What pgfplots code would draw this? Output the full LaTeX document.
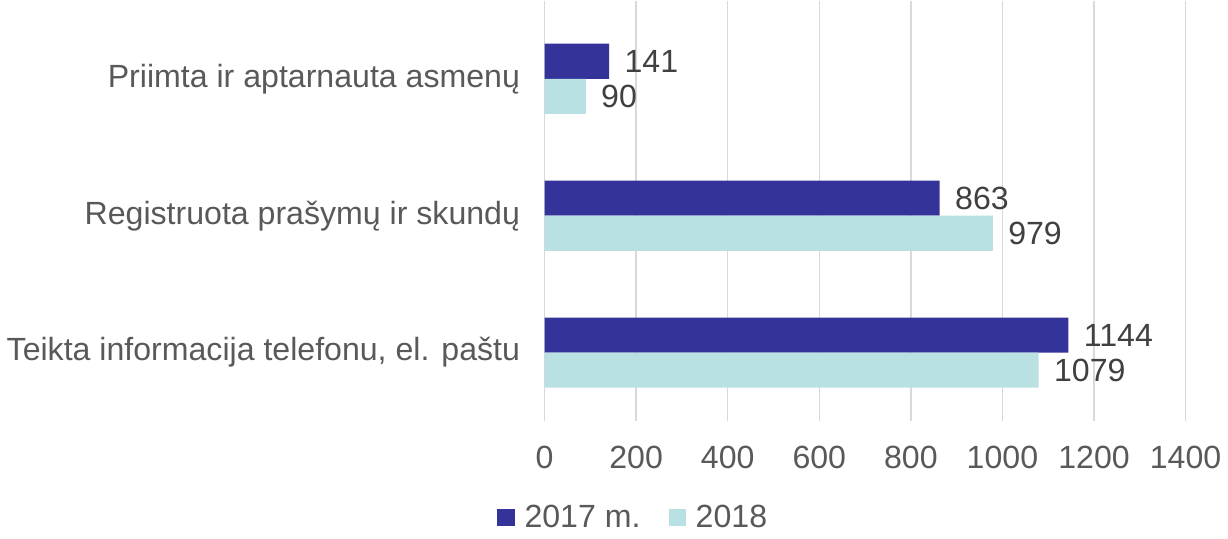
\documentclass[border=0pt]{standalone}
\usepackage{fontspec}
\setmainfont{Liberation Sans}
\usepackage{pgfplots}
\pgfplotsset{compat=1.18}
\definecolor{c17}{HTML}{333399}
\definecolor{c18}{HTML}{B9E0E3}
\definecolor{txt}{HTML}{595959}
\definecolor{lbl}{HTML}{404040}
\definecolor{gridc}{HTML}{D9D9D9}
\begin{document}
\begin{tikzpicture}
\begin{axis}[
  scale only axis, width=319.5pt, height=209.5pt,
  xbar, bar width=17.5pt,
  xmin=0, xmax=1400, ymin=-0.57, ymax=2.5, y dir=reverse,
  axis line style={draw=none},
  xtick={0,200,...,1400}, ytick={0,1,2},
  yticklabels={Priimta ir aptarnauta asmenų, Registruota prašymų ir skundų, {Teikta informacija telefonu, el. paštu}},
  xmajorgrids, major grid style={gridc, line width=0.75pt},
  major tick length=0pt,
  tick label style={font=\fontsize{16}{19}\selectfont, text=txt},
  xticklabel style={yshift=-9pt},
  yticklabel style={xshift=-8.7pt},
  /pgf/number format/assume math mode=true,
  /pgf/number format/1000 sep={},
  scaled x ticks=false,
  nodes near coords,
  nodes near coords style={anchor=west, font=\fontsize{16}{19}\selectfont, text=lbl, inner sep=0pt, xshift=7.5pt, /pgf/number format/1000 sep={}},
  legend style={draw=none, at={(0.14,-0.229)}, anchor=center, legend columns=2,
    font=\fontsize{16}{19}\selectfont, text=txt,
    /tikz/every odd column/.append style={column sep=3pt},
    /tikz/every even column/.append style={column sep=12pt}},
  legend image code/.code={\fill[#1] (0pt,-4.25pt) rectangle (8.5pt,4.25pt);},
]
\addplot[fill=c17, draw=none, bar shift=8.75pt] coordinates {(141,0) (863,1) (1144,2)};
\addplot[fill=c18, draw=none, bar shift=-8.75pt] coordinates {(90,0) (979,1) (1079,2)};
\legend{2017 m., 2018}
\end{axis}
\end{tikzpicture}
\end{document}
